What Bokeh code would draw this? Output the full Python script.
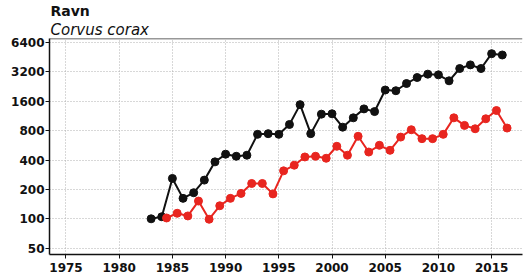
from bokeh.plotting import figure
from bokeh.models import FixedTicker, PrintfTickFormatter, Span, Title, Range1d, ColumnDataSource
from bokeh.transform import dodge
from bokeh.embed import file_html
from bokeh.resources import INLINE

title_text = "Ravn"
subtitle_text = "Corvus corax"

black_years = list(range(1983, 2017))
black_vals = [100, 105, 259, 162, 185, 249, 383, 459, 437, 448, 733, 745, 733, 925, 1477, 745,
              1180, 1190, 868, 1082, 1336, 1254, 2084, 2050, 2430, 2800, 3030, 2980, 2590, 3460,
              3770, 3460, 4910, 4760]

red_years = list(range(1984, 2017))
red_vals = [102, 114, 107, 152, 99, 136, 162, 182, 230, 230, 180, 310, 354, 430, 437,
            417, 553, 448, 700, 483, 566, 503, 687, 817, 662, 662, 733, 1082, 905, 836,
            1058, 1285, 850]

y_ticks = [50, 100, 200, 400, 800, 1600, 3200, 6400]
x_ticks = [1975, 1980, 1985, 1990, 1995, 2000, 2005, 2010, 2015]

black_src = ColumnDataSource(dict(year=black_years, val=black_vals))
red_src = ColumnDataSource(dict(year=red_years, val=red_vals))

y_lo, y_hi = 43.1, 7024
p = figure(width=525, height=274, y_axis_type="log",
           x_range=Range1d(1973.45, 2017.9), y_range=Range1d(y_lo, y_hi),
           output_backend="svg", toolbar_location=None, title_location=None,
           min_border_left=49, min_border_right=3, min_border_bottom=19, min_border_top=37)

p.add_layout(Title(text=subtitle_text, align="left", text_font="DejaVu Sans",
                   text_font_size="15px", text_font_style="italic", text_color="#111111",
                   standoff=0, offset=1), "above")
p.add_layout(Title(text=title_text, align="left", text_font="DejaVu Sans",
                   text_font_size="14px", text_font_style="bold", text_color="#111111",
                   standoff=0, offset=1), "above")

p.outline_line_color = None
p.add_layout(Span(location=y_hi, dimension="width", line_color="#333333", line_width=1.5))

p.xaxis.ticker = FixedTicker(ticks=x_ticks)
p.yaxis.ticker = FixedTicker(ticks=y_ticks)
p.yaxis.formatter = PrintfTickFormatter(format="%d")

for ax in (p.xaxis, p.yaxis):
    ax.axis_line_color = "#111111"
    ax.axis_line_width = 1.5
    ax.major_tick_line_color = "#111111"
    ax.major_tick_out = 4
    ax.major_tick_in = 0
    ax.minor_tick_line_color = None
    ax.major_label_text_font = "DejaVu Sans"
    ax.major_label_text_font_style = "bold"
    ax.major_label_text_font_size = "12px"
    ax.major_label_text_color = "#111111"
p.yaxis.major_label_standoff = 1
p.xaxis.major_label_standoff = 4

p.xgrid.ticker = FixedTicker(ticks=x_ticks)
p.ygrid.ticker = FixedTicker(ticks=y_ticks)
for g in (p.xgrid, p.ygrid):
    g.grid_line_color = "#b0b0b0"
    g.grid_line_dash = "1 2"
    g.grid_line_width = 1

p.line("year", "val", source=black_src, line_color="#111111", line_width=2)
p.scatter("year", "val", source=black_src, size=8, fill_color="#111111", line_color="#111111")

rx = dodge("year", 0.45, range=p.x_range)
p.line(rx, "val", source=red_src, line_color="#e8251f", line_width=2)
p.scatter(rx, "val", source=red_src, size=8, fill_color="#e8251f", line_color="#e8251f")

open("out.html", "w").write(file_html(p, INLINE))
